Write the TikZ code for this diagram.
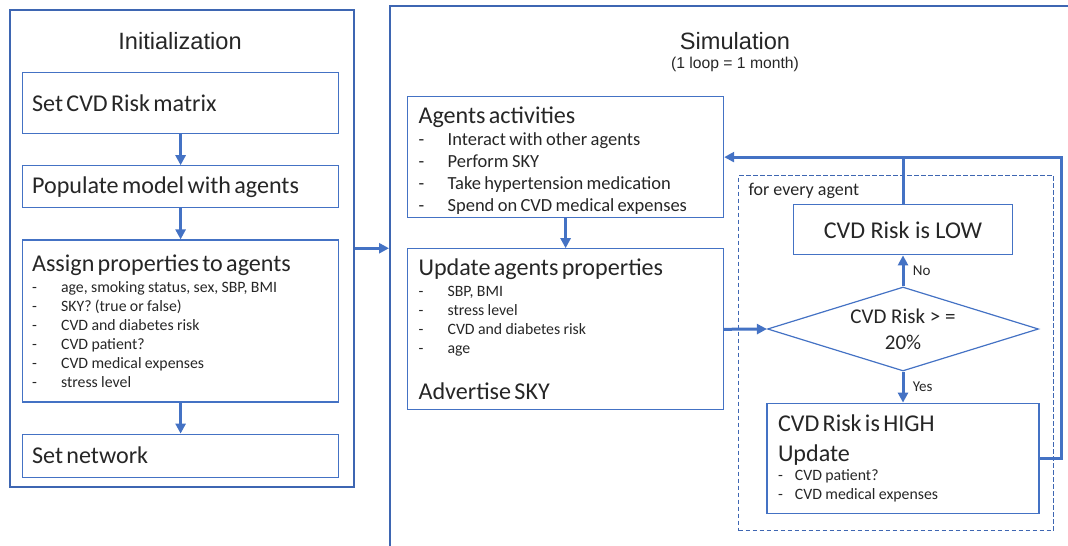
\documentclass[tikz,border=0pt]{standalone}
\usepackage{fontspec}
\setmainfont{Carlito}
\newfontfamily\arialfont{Liberation Sans}
\usetikzlibrary{arrows.meta, positioning, shapes.geometric}

\definecolor{lineblue}{RGB}{68,114,196}
\definecolor{frameblue}{RGB}{62,102,178}
\definecolor{darktext}{RGB}{38,38,38}

\setlength{\parindent}{0pt}
\newcommand{\bigtxt}{\fontsize{24.1}{27}\selectfont}
\newcommand{\smalltxt}{\fontsize{15.8}{19}\selectfont}
\newcommand{\itm}[2][29pt]{\makebox[#1][l]{-}#2\par}

\begin{document}
\begin{tikzpicture}[
    x=1pt, y=-1pt,
    >={Triangle[length=10pt,width=10pt]},
    node distance=31pt,
    box/.style={
      rectangle,
      draw=lineblue,
      line width=1.2pt,
      text=darktext,
      inner ysep=0pt
    },
    initbox/.style={box, minimum width=316pt, text width=297pt, inner xsep=9.5pt},
    simbox/.style={box, minimum width=316pt, text width=294pt, inner xsep=11pt},
    decision/.style={
      diamond,
      draw=lineblue,
      line width=1.2pt,
      aspect=3.2,
      inner sep=0pt,
      minimum width=271pt,
      minimum height=84pt,
      align=center,
      text=darktext,
      font=\fontsize{21}{26}\selectfont
    },
    panel/.style={rectangle, draw=frameblue, line width=1.5pt},
    heading/.style={font=\arialfont\fontsize{23.6}{28}\selectfont, text=darktext},
    answer/.style={right, xshift=5pt, text=darktext, font=\fontsize{15}{18}\selectfont},
    flow/.style={->, draw=lineblue, line width=3pt},
    flowline/.style={draw=lineblue, line width=3pt}
]

% visible area
\useasboundingbox (0,0) rectangle (1068,546);
\clip (0,0) rectangle (1068,546);

% Initialization panel
\node[panel, anchor=north west, minimum width=344pt, minimum height=477pt] (init) at (9,9) {};
\node[heading] (inittitle) at (180,41) {Initialization};

\node[initbox, anchor=north west, minimum height=61pt] (risk) at (22,72) {\bigtxt Set CVD Risk matrix};
\node[initbox, below=of risk, minimum height=42pt] (populate) {\bigtxt Populate model with agents};
\node[initbox, below=of populate, minimum height=162pt] (assign) {{\bigtxt Assign properties to agents\par}\vspace{2pt}
  \smalltxt
  \itm{age, smoking status, sex, SBP, BMI}
  \itm{SKY? (true or false)}
  \itm{CVD and diabetes risk}
  \itm{CVD patient?}
  \itm{CVD medical expenses}
  \itm{stress level}};
\node[initbox, below=of assign, minimum height=43pt] (network) {\bigtxt Set network};

% Simulation panel
\node[panel, anchor=north west, minimum width=760pt, minimum height=600pt] (sim) at (389,5) {};
\node[heading] (simtitle) at (735,41) {Simulation};
\node[font=\arialfont\fontsize{15.7}{19}\selectfont, text=darktext] (simnote) at (735,64) {(1 loop = 1 month)};

\node[simbox, anchor=north west, minimum height=121pt] (agents) at (407,96) {{\bigtxt Agents activities\par}
  \fontsize{18.5}{22}\selectfont
  \itm{Interact with other agents}
  \itm{Perform SKY}
  \itm{Take hypertension medication}
  \itm{Spend on CVD medical expenses}
  \kern-7pt};
\node[simbox, below=30pt of agents, minimum height=161pt] (update) {{\bigtxt Update agents properties\par}\vspace{2pt}
  \smalltxt
  \itm{SBP, BMI}
  \itm{stress level}
  \itm{CVD and diabetes risk}
  \itm{age}
  \vspace{19pt}
  {\bigtxt Advertise SKY\par}};

% per agent check
\node[panel, dashed, dash pattern=on 4.5pt off 2.5pt, line width=1.3pt, anchor=north west, minimum width=315pt, minimum height=355pt] (every) at (738,175) {};
\node[anchor=west, text=darktext, font=\fontsize{18}{22}\selectfont] (everylabel) at (745,191) {for every agent};

\node[decision] (check) at (903,329) {CVD Risk > =\\20\%};
\node[box, above=of check, minimum width=219pt, minimum height=50pt, align=center] (low) {\bigtxt CVD Risk is LOW};
\node[box, below=of check, minimum width=272pt, minimum height=110pt, text width=250pt, inner xsep=11pt] (high) {{\fontsize{24.1}{30}\selectfont CVD Risk is HIGH\par Update\par}
  \smalltxt
  \itm[17pt]{CVD patient?}
  \itm[17pt]{CVD medical expenses}};

% arrows
\draw[flow] (risk) -- (populate);
\draw[flow] (populate) -- (assign);
\draw[flow] (assign) -- (network);
\draw[flow] (init.east) -- (init.east -| sim.west);
\draw[flow] (agents) -- (update);
\draw[flow] (update.east) -- (check.west);
\draw[flow] (check) -- node[answer] (no) {No} (low);
\draw[flow] (check) -- node[answer] (yes) {Yes} (high);

% loop back to the activities
\coordinate (loopedge) at (1061,0);
\draw[flow] (high.east) -| (agents.east -| loopedge) -- (agents.east);
\draw[flowline] (low.north) -- (low.north |- agents.east);

\end{tikzpicture}
\end{document}
